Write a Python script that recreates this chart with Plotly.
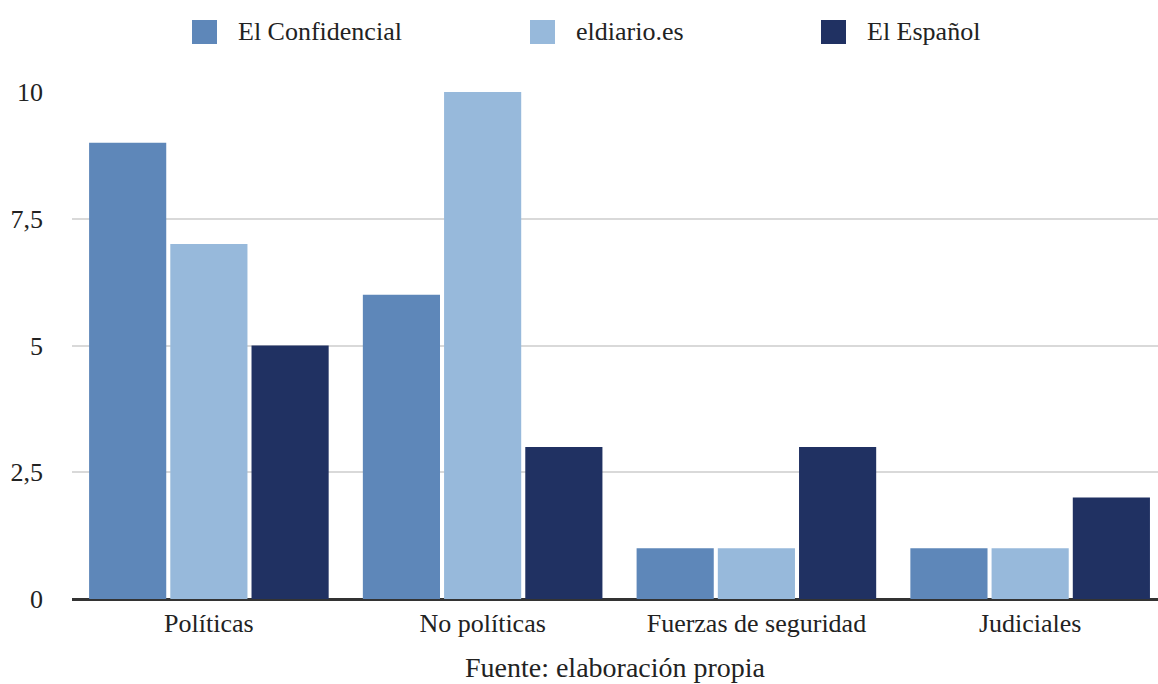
import plotly.graph_objects as go

categories = ["Políticas", "No políticas", "Fuerzas de seguridad", "Judiciales"]
series_names = ["El Confidencial", "eldiario.es", "El Español"]
el_confidencial = [9, 6, 1, 1]
eldiario = [7, 10, 1, 1]
el_espanol = [5, 3, 3, 2]
colors = ["#5E87B9", "#97B9DB", "#203162"]
y_ticks = [0, 2.5, 5, 7.5, 10]
y_tick_labels = ["0", "2,5", "5", "7,5", "10"]

FONT = "Liberation Serif, Times New Roman, Times, serif"
W, H = 1158, 684
L, R, T, B = 72, 0, 92, 85
pw, ph = W - L - R, H - T - B

fig = go.Figure()
for name, vals, c in zip(series_names, [el_confidencial, eldiario, el_espanol], colors):
    fig.add_trace(go.Bar(x=categories, y=vals, name=name, marker=dict(color=c, line=dict(width=0)),
                         showlegend=False))

# custom legend (squares + labels)
legend_sq_px = [192, 530, 821]
for name, c, px in zip(series_names, colors, legend_sq_px):
    x0 = (px - L) / pw
    x1 = (px + 25 - L) / pw
    y0 = (H - B - 44) / ph
    y1 = (H - B - 20) / ph
    fig.add_shape(type="rect", xref="paper", yref="paper", x0=x0, x1=x1, y0=y0, y1=y1,
                  fillcolor=c, line=dict(width=0))
    fig.add_annotation(xref="paper", yref="paper", x=(px + 44 - L) / pw, y=(H - B - 31) / ph,
                       text=name, showarrow=False, xanchor="left", yanchor="middle",
                       font=dict(family=FONT, size=26, color="#222"))

fig.update_layout(
    width=W, height=H,
    margin=dict(l=L, r=R, t=T, b=B, pad=0),
    paper_bgcolor="white", plot_bgcolor="white",
    barmode="group", bargap=0.11, bargroupgap=0.05,
    font=dict(family=FONT, size=26, color="#222"),
    xaxis=dict(showgrid=False, ticks="", showline=False, range=[-0.5, 3.467],
               ticklabelstandoff=6,
               tickfont=dict(family=FONT, size=26, color="#222"),
               title=dict(text="Fuente: elaboración propia", font=dict(family=FONT, size=28, color="#222"),
                          standoff=20)),
    yaxis=dict(range=[0, 10], tickvals=y_ticks, ticktext=y_tick_labels,
               showgrid=True, gridcolor="#D9D9D9", gridwidth=1.5,
               zeroline=True, zerolinecolor="#333333", zerolinewidth=3,
               ticks="", showline=False, ticklabelstandoff=28,
               tickfont=dict(family=FONT, size=26, color="#222")),
)

fig.write_html("out.html")
